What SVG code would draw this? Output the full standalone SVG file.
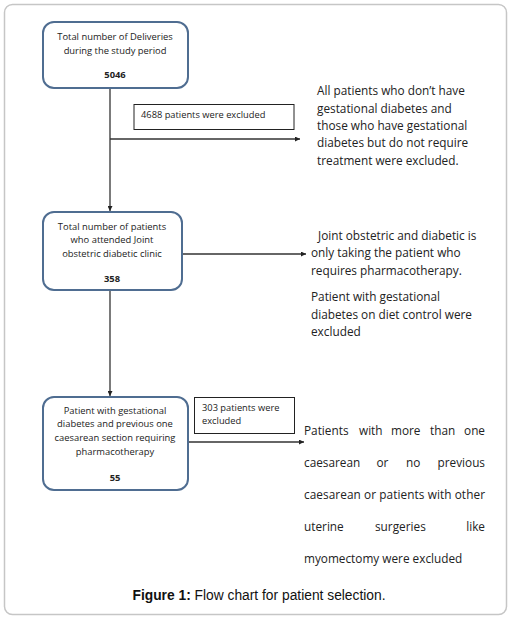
<svg xmlns="http://www.w3.org/2000/svg" width="512" height="621" viewBox="0 0 512 621">
<defs>
<style>
.frame{fill:#fff;stroke:#c6c6c6;stroke-width:1.5}
.node{fill:#fff;stroke:#4f6d91;stroke-width:2}
.lbl{fill:#fff;stroke:#222;stroke-width:1}
.t{font-family:"Open Sans",Lato,sans-serif;fill:#222}
.nt{font-size:9.4px;text-anchor:middle}
.nb{font-size:9.4px;text-anchor:middle;font-weight:bold}
.st{font-size:9.3px}
.rt{font-size:11.8px}
.edge{fill:none;stroke:#333;stroke-width:1.3}
.cap{font-family:"Liberation Sans",Arial,sans-serif;font-size:13.8px;fill:#111;text-anchor:middle}
</style>
<marker id="ah" viewBox="0 0 10 10" refX="10" refY="5" markerWidth="5" markerHeight="5" orient="auto" markerUnits="userSpaceOnUse">
<path d="M0,0 L10,5 L0,10 z" fill="#222"/>
</marker>
</defs>
<rect class="frame" x="4.5" y="4.5" width="502" height="610" rx="8"/>

<g id="connectors">
<line class="edge" x1="110" y1="88" x2="110" y2="211" marker-end="url(#ah)"/>
<line class="edge" x1="110" y1="139" x2="300" y2="139" marker-end="url(#ah)"/>
<line class="edge" x1="110" y1="291" x2="110" y2="396" marker-end="url(#ah)"/>
<line class="edge" x1="183" y1="254" x2="306" y2="254" marker-end="url(#ah)"/>
<line class="edge" x1="188" y1="442" x2="304" y2="442" marker-end="url(#ah)"/>
</g>

<g id="n1">
<rect class="node" x="43" y="22" width="145" height="66" rx="11"/>
<text class="t nt" x="115" y="40">Total number of Deliveries</text>
<text class="t nt" x="115" y="54">during the study period</text>
<text class="t nb" x="115" y="78">5046</text>
</g>

<g id="x1">
<rect class="lbl" x="134" y="104.5" width="160" height="25"/>
<text class="t st" x="141" y="118">4688 patients were excluded</text>
</g>

<g id="r1">
<text class="t rt" x="317" y="95">All patients who don’t have</text>
<text class="t rt" x="317" y="113">gestational diabetes and</text>
<text class="t rt" x="317" y="130">those who have gestational</text>
<text class="t rt" x="317" y="147">diabetes but do not require</text>
<text class="t rt" x="317" y="165">treatment were excluded.</text>
</g>

<g id="n2">
<rect class="node" x="43" y="212" width="139" height="78" rx="11"/>
<text class="t nt" x="112" y="230">Total number of patients</text>
<text class="t nt" x="112" y="243">who attended Joint</text>
<text class="t nt" x="112" y="257">obstetric diabetic clinic</text>
<text class="t nb" x="112" y="282">358</text>
</g>

<g id="r2">
<text class="t rt" x="318" y="240">Joint obstetric and diabetic is</text>
<text class="t rt" x="311" y="257">only taking the patient who</text>
<text class="t rt" x="311" y="275">requires pharmacotherapy.</text>
<text class="t rt" x="311" y="301">Patient with gestational</text>
<text class="t rt" x="311" y="319">diabetes on diet control were</text>
<text class="t rt" x="311" y="336">excluded</text>
</g>

<g id="n3">
<rect class="node" x="43" y="397" width="145" height="93" rx="11"/>
<text class="t nt" x="115" y="414">Patient with gestational</text>
<text class="t nt" x="115" y="427">diabetes and previous one</text>
<text class="t nt" x="115" y="441">caesarean section requiring</text>
<text class="t nt" x="115" y="455">pharmacotherapy</text>
<text class="t nb" x="115" y="481">55</text>
</g>

<g id="x2">
<rect class="lbl" x="194.5" y="397.5" width="100" height="36"/>
<text class="t st" x="202" y="411">303 patients were</text>
<text class="t st" x="202" y="424">excluded</text>
</g>

<g id="r3">
<text class="t rt" x="304" y="435">Patients</text>
<text class="t rt" x="359" y="435">with</text>
<text class="t rt" x="391" y="435">more</text>
<text class="t rt" x="430" y="435">than</text>
<text class="t rt" x="485" y="435" text-anchor="end">one</text>
<text class="t rt" x="304" y="467">caesarean</text>
<text class="t rt" x="376.5" y="467">or</text>
<text class="t rt" x="406" y="467">no</text>
<text class="t rt" x="485" y="467" text-anchor="end">previous</text>
<text class="t rt" x="304" y="499" textLength="181" lengthAdjust="spacing">caesarean or patients with other</text>
<text class="t rt" x="304" y="531">uterine</text>
<text class="t rt" x="375" y="531">surgeries</text>
<text class="t rt" x="485" y="531" text-anchor="end">like</text>
<text class="t rt" x="304" y="563">myomectomy were excluded</text>
</g>

<text class="cap" x="259" y="600"><tspan font-weight="bold">Figure 1:</tspan> Flow chart for patient selection.</text>
</svg>
